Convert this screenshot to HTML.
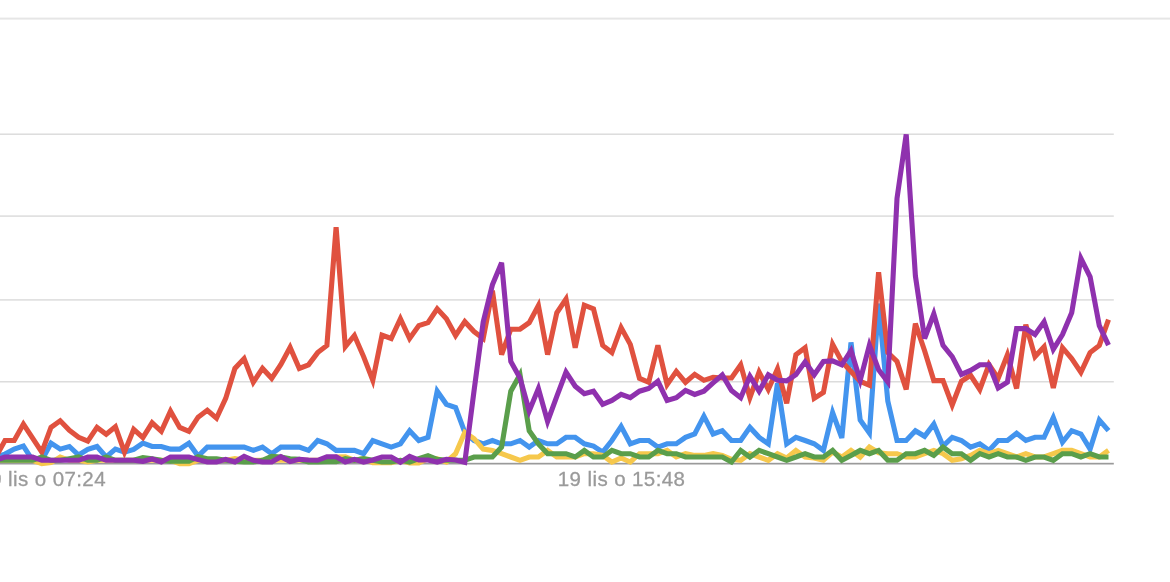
<!DOCTYPE html>
<html><head><meta charset="utf-8"><title>chart</title>
<style>
html,body{margin:0;padding:0;background:#fff;}
body{width:1170px;height:582px;overflow:hidden;font-family:"Liberation Sans",sans-serif;}
svg{display:block;}
text{font-family:"Liberation Sans",sans-serif;font-size:20.5px;fill:#9a9a9a;letter-spacing:0.4px;stroke:#9a9a9a;stroke-width:0.3px;}
</style></head><body>
<svg width="1170" height="582" viewBox="0 0 1170 582">
<defs><filter id="np" x="-0.01" y="-0.15" width="1.02" height="1.3" filterUnits="objectBoundingBox"><feOffset dx="0" dy="0"/></filter></defs>
<rect width="1170" height="582" fill="#ffffff"/>
<rect x="0" y="17.6" width="1170" height="2" fill="#e6e6e6"/>
<rect x="0" y="133.45" width="1113.8" height="1.5" fill="#dcdcdc"/>
<rect x="0" y="215.35" width="1113.8" height="1.5" fill="#dcdcdc"/>
<rect x="0" y="299.15" width="1113.8" height="1.5" fill="#dcdcdc"/>
<rect x="0" y="381.00" width="1113.8" height="1.5" fill="#dcdcdc"/>
<rect x="0" y="462.8" width="1113.8" height="1.7" fill="#9a9a9a"/>

<polyline fill="none" stroke="#4394ee" stroke-width="5.1" points="-4.2,457.0 5.0,454.1 14.2,449.1 23.4,446.1 32.6,460.3 41.8,460.3 51.0,443.2 60.2,449.1 69.4,446.5 78.6,455.0 87.8,449.4 97.0,446.5 106.2,457.0 115.4,449.1 124.5,452.1 133.7,449.4 142.9,443.2 152.1,446.5 161.3,446.5 170.5,449.1 179.7,449.1 188.9,443.2 198.1,456.0 207.3,447.1 216.5,447.1 225.7,447.1 234.9,447.1 244.1,447.1 253.3,450.4 262.5,447.1 271.7,453.7 280.9,447.1 290.1,447.1 299.3,447.1 308.5,450.4 317.7,440.5 326.9,443.8 336.1,450.4 345.3,450.4 354.4,450.4 363.6,453.7 372.8,440.5 382.0,443.8 391.2,447.1 400.4,443.8 409.6,430.7 418.8,440.5 428.0,437.3 437.2,391.2 446.4,404.3 455.6,407.6 464.8,432.3 474.0,440.5 483.2,443.8 492.4,440.5 501.6,443.8 510.8,443.8 520.0,440.5 529.2,447.1 538.4,440.5 547.6,443.8 556.8,443.8 566.0,437.3 575.2,437.3 584.3,443.8 593.5,446.1 602.7,452.1 611.9,440.5 621.1,426.4 630.3,443.8 639.5,440.5 648.7,440.5 657.9,447.1 667.1,443.8 676.3,443.8 685.5,437.3 694.7,434.0 703.9,416.2 713.1,434.0 722.3,430.7 731.5,440.5 740.7,440.5 749.9,427.4 759.1,437.3 768.3,443.8 777.5,383.3 786.7,443.8 795.9,437.3 805.1,440.5 814.2,443.8 823.4,450.4 832.6,412.6 841.8,437.9 851.0,342.4 860.2,420.1 869.4,433.0 878.6,303.6 887.8,401.0 897.0,440.5 906.2,440.5 915.4,430.7 924.6,436.3 933.8,424.1 943.0,446.1 952.2,437.3 961.4,440.5 970.6,447.1 979.8,443.8 989.0,450.4 998.2,440.5 1007.4,440.5 1016.6,433.3 1025.8,440.5 1035.0,437.3 1044.1,437.3 1053.3,417.5 1062.5,442.2 1071.7,430.7 1080.9,434.0 1090.1,449.1 1099.3,420.1 1108.5,430.7"/>
<polyline fill="none" stroke="#e0513f" stroke-width="5.1" points="-4.2,457.0 5.0,440.5 14.2,440.5 23.4,424.1 32.6,438.2 41.8,452.1 51.0,427.4 60.2,420.8 69.4,430.3 78.6,437.3 87.8,441.2 97.0,427.4 106.2,434.3 115.4,426.7 124.5,452.1 133.7,429.4 142.9,437.6 152.1,422.8 161.3,431.3 170.5,411.2 179.7,427.4 188.9,431.3 198.1,417.2 207.3,410.3 216.5,418.2 225.7,398.4 234.9,368.4 244.1,358.6 253.3,382.3 262.5,368.4 271.7,378.3 280.9,364.5 290.1,347.4 299.3,368.4 308.5,364.8 317.7,352.6 326.9,345.4 336.1,227.2 345.3,346.7 354.4,335.5 363.6,356.6 372.8,380.3 382.0,335.2 391.2,338.5 400.4,318.7 409.6,338.5 418.8,325.6 428.0,322.7 437.2,308.8 446.4,318.7 455.6,335.5 464.8,321.7 474.0,331.6 483.2,338.5 492.4,290.7 501.6,354.6 510.8,329.2 520.0,329.2 529.2,322.7 538.4,305.5 547.6,354.6 556.8,312.8 566.0,299.0 575.2,347.7 584.3,305.2 593.5,308.8 602.7,345.4 611.9,352.6 621.1,327.6 630.3,344.4 639.5,378.3 648.7,382.3 657.9,345.4 667.1,384.6 676.3,371.4 685.5,382.3 694.7,374.4 703.9,380.3 713.1,377.3 722.3,378.0 731.5,378.0 740.7,364.8 749.9,397.7 759.1,372.1 768.3,389.5 777.5,368.8 786.7,403.3 795.9,354.6 805.1,347.7 814.2,398.4 823.4,392.5 832.6,344.4 841.8,361.5 851.0,371.4 860.2,381.3 869.4,385.2 878.6,272.3 887.8,352.6 897.0,361.5 906.2,389.5 915.4,323.6 924.6,350.7 933.8,380.6 943.0,380.6 952.2,405.0 961.4,381.3 970.6,375.3 979.8,389.5 989.0,364.5 998.2,378.3 1007.4,354.9 1016.6,388.5 1025.8,324.6 1035.0,356.6 1044.1,346.7 1053.3,387.9 1062.5,347.7 1071.7,358.6 1080.9,372.4 1090.1,352.6 1099.3,345.4 1108.5,319.7"/>
<polyline fill="none" stroke="#f6c84c" stroke-width="5.1" points="-4.2,460.3 5.0,460.3 14.2,460.3 23.4,460.3 32.6,460.3 41.8,463.6 51.0,462.6 60.2,457.0 69.4,460.3 78.6,460.3 87.8,462.0 97.0,460.3 106.2,460.3 115.4,460.3 124.5,460.3 133.7,460.3 142.9,460.3 152.1,460.3 161.3,460.3 170.5,460.3 179.7,463.6 188.9,463.6 198.1,460.3 207.3,460.3 216.5,460.3 225.7,460.3 234.9,458.7 244.1,460.3 253.3,460.3 262.5,460.3 271.7,460.3 280.9,460.3 290.1,460.3 299.3,460.3 308.5,460.3 317.7,460.3 326.9,460.3 336.1,457.0 345.3,456.7 354.4,460.3 363.6,458.7 372.8,462.6 382.0,462.6 391.2,462.6 400.4,460.3 409.6,462.9 418.8,462.9 428.0,458.7 437.2,458.7 446.4,462.0 455.6,453.7 464.8,432.3 474.0,438.6 483.2,449.1 492.4,450.4 501.6,453.7 510.8,457.0 520.0,460.3 529.2,457.0 538.4,457.0 547.6,450.4 556.8,457.0 566.0,457.0 575.2,457.0 584.3,453.7 593.5,453.7 602.7,455.4 611.9,462.0 621.1,458.0 630.3,462.0 639.5,453.7 648.7,453.7 657.9,453.7 667.1,450.4 676.3,457.0 685.5,453.7 694.7,455.4 703.9,455.4 713.1,453.7 722.3,455.4 731.5,459.3 740.7,460.3 749.9,453.7 759.1,457.0 768.3,460.3 777.5,453.7 786.7,458.0 795.9,450.4 805.1,457.0 814.2,458.0 823.4,460.3 832.6,452.1 841.8,457.0 851.0,450.4 860.2,457.0 869.4,447.1 878.6,452.7 887.8,453.7 897.0,453.7 906.2,457.0 915.4,457.0 924.6,453.7 933.8,450.4 943.0,453.7 952.2,460.3 961.4,458.7 970.6,455.4 979.8,450.4 989.0,453.7 998.2,450.4 1007.4,453.7 1016.6,457.0 1025.8,453.7 1035.0,457.0 1044.1,457.0 1053.3,453.7 1062.5,450.4 1071.7,450.4 1080.9,453.7 1090.1,457.0 1099.3,457.0 1108.5,450.4"/>
<polyline fill="none" stroke="#5a9e4b" stroke-width="5.1" points="-4.2,460.3 5.0,460.3 14.2,460.3 23.4,460.3 32.6,460.3 41.8,457.0 51.0,460.3 60.2,460.3 69.4,458.7 78.6,457.0 87.8,460.3 97.0,460.3 106.2,457.0 115.4,460.3 124.5,460.3 133.7,460.3 142.9,457.7 152.1,458.7 161.3,460.3 170.5,461.3 179.7,461.3 188.9,461.3 198.1,456.7 207.3,458.7 216.5,458.7 225.7,460.3 234.9,461.3 244.1,462.0 253.3,462.0 262.5,460.3 271.7,456.4 280.9,457.0 290.1,458.7 299.3,459.3 308.5,462.0 317.7,462.0 326.9,461.6 336.1,461.6 345.3,458.7 354.4,460.3 363.6,458.7 372.8,460.3 382.0,462.0 391.2,462.0 400.4,460.3 409.6,462.0 418.8,458.7 428.0,455.7 437.2,459.3 446.4,460.3 455.6,460.3 464.8,460.3 474.0,457.0 483.2,457.0 492.4,457.0 501.6,447.1 510.8,391.2 520.0,374.7 529.2,430.7 538.4,443.8 547.6,453.7 556.8,453.7 566.0,453.7 575.2,457.0 584.3,450.4 593.5,457.0 602.7,457.0 611.9,450.4 621.1,453.7 630.3,453.7 639.5,457.0 648.7,457.0 657.9,450.4 667.1,453.7 676.3,453.7 685.5,457.0 694.7,457.0 703.9,457.0 713.1,457.0 722.3,457.0 731.5,462.0 740.7,450.4 749.9,457.0 759.1,450.4 768.3,453.7 777.5,457.0 786.7,460.3 795.9,457.0 805.1,453.7 814.2,457.0 823.4,457.0 832.6,450.4 841.8,460.3 851.0,455.4 860.2,450.4 869.4,453.7 878.6,450.4 887.8,460.3 897.0,460.3 906.2,453.7 915.4,453.7 924.6,450.4 933.8,455.4 943.0,447.1 952.2,453.7 961.4,453.7 970.6,460.3 979.8,453.7 989.0,457.0 998.2,453.7 1007.4,457.0 1016.6,457.0 1025.8,460.3 1035.0,457.0 1044.1,457.0 1053.3,460.3 1062.5,453.7 1071.7,453.7 1080.9,457.0 1090.1,453.7 1099.3,457.0 1108.5,457.0"/>
<polyline fill="none" stroke="#8f31ae" stroke-width="5.1" points="-4.2,460.3 5.0,457.0 14.2,457.0 23.4,457.0 32.6,457.0 41.8,460.3 51.0,460.3 60.2,460.3 69.4,460.3 78.6,460.3 87.8,457.0 97.0,457.0 106.2,460.3 115.4,460.3 124.5,460.3 133.7,460.3 142.9,461.3 152.1,459.0 161.3,462.0 170.5,457.0 179.7,457.0 188.9,457.0 198.1,459.6 207.3,462.0 216.5,462.0 225.7,459.3 234.9,462.0 244.1,456.4 253.3,460.3 262.5,462.0 271.7,462.0 280.9,456.7 290.1,461.6 299.3,459.3 308.5,460.0 317.7,460.3 326.9,456.7 336.1,456.7 345.3,462.0 354.4,459.3 363.6,462.0 372.8,460.0 382.0,457.0 391.2,457.0 400.4,462.3 409.6,456.4 418.8,460.0 428.0,460.0 437.2,462.0 446.4,459.3 455.6,460.0 464.8,462.3 474.0,391.2 483.2,322.0 492.4,284.8 501.6,262.7 510.8,361.5 520.0,378.0 529.2,410.9 538.4,388.5 547.6,421.4 556.8,396.4 566.0,372.1 575.2,386.2 584.3,393.8 593.5,391.2 602.7,404.3 611.9,400.4 621.1,394.4 630.3,397.7 639.5,391.2 648.7,388.5 657.9,381.3 667.1,400.4 676.3,397.7 685.5,390.5 694.7,394.4 703.9,391.2 713.1,382.9 722.3,375.0 731.5,390.5 740.7,397.7 749.9,376.3 759.1,391.2 768.3,374.7 777.5,380.3 786.7,380.9 795.9,374.7 805.1,361.8 814.2,374.7 823.4,361.5 832.6,360.9 841.8,364.8 851.0,350.7 860.2,380.3 869.4,345.1 878.6,369.7 887.8,381.9 897.0,198.5 906.2,134.3 915.4,275.9 924.6,338.5 933.8,313.8 943.0,345.4 952.2,356.6 961.4,374.4 970.6,370.4 979.8,364.8 989.0,364.8 998.2,387.9 1007.4,382.3 1016.6,328.6 1025.8,328.6 1035.0,334.5 1044.1,321.7 1053.3,349.3 1062.5,334.5 1071.7,312.8 1080.9,258.4 1090.1,276.9 1099.3,325.6 1108.5,345.1"/>
<g filter="url(#np)"><text x="42.2" y="486.0" text-anchor="middle">19 lis o 07:24</text>
<text x="621.6" y="486.0" text-anchor="middle">19 lis o 15:48</text></g>
</svg>
</body></html>
